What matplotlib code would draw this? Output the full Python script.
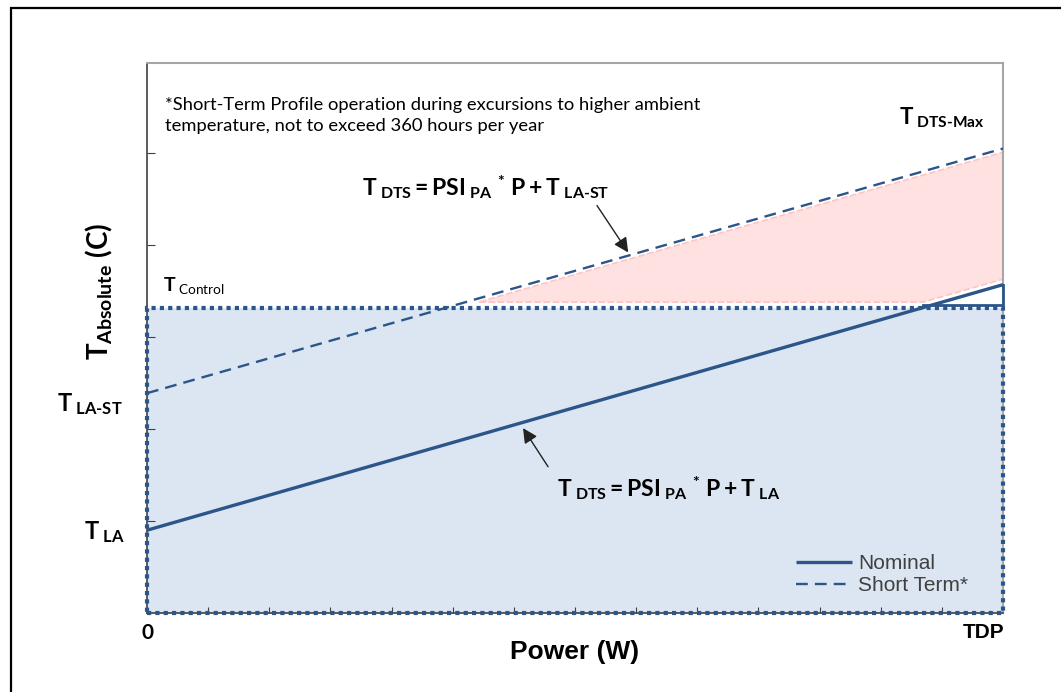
import matplotlib
matplotlib.use("Agg")
import matplotlib.pyplot as plt
import matplotlib.patches as patches
import numpy as np

# values (arbitrary units: x 0..TDP, y in tick steps)
power = [0, 14]
nominal = [0.90, 3.57]
short_term = [2.39, 5.05]
t_control = 3.32

line_blue = "#2c5589"
fill_blue = "#dce6f2"
fill_pink = "#ffe1e1"

plt.rcParams["mathtext.fontset"] = "custom"
plt.rcParams["mathtext.bf"] = "Lato:bold"
plt.rcParams["mathtext.rm"] = "Lato"
plt.rcParams["mathtext.it"] = "Lato:italic"

fig = plt.figure(figsize=(10.61, 6.92), dpi=100)
ax = fig.add_axes([147 / 1061, 79 / 692, 856 / 1061, 550 / 692])
ax.set_xlim(power[0], power[1])
ax.set_ylim(0, 5.98)

# outer frame of the picture
fig.patches.append(patches.Rectangle((11 / 1061, -0.1), 1.2, 0.1 + 684 / 692,
                                     transform=fig.transFigure, fill=False,
                                     edgecolor="black", linewidth=1.6))

# blue operating area under T control
ax.add_patch(patches.Rectangle((power[0], 0), power[1] - power[0], t_control,
                               facecolor=fill_blue, edgecolor="none", zorder=1))
ax.add_patch(patches.Rectangle((power[0], 0), power[1] - power[0], t_control,
                               fill=False, edgecolor=line_blue,
                               linestyle=(0, (1, 1)), linewidth=3.0,
                               clip_on=False, zorder=3))

# pink short-term area between the dashed line and max(nominal, control)
xs = np.linspace(power[0], power[1], 400)
nom_y = np.interp(xs, power, nominal)
st_y = np.interp(xs, power, short_term)
low = np.maximum(nom_y, t_control) + 0.06
high = st_y - 0.04
ax.fill_between(xs, low, high, where=high > low, facecolor=fill_pink,
                edgecolor="#ffc4c4", linestyle=(0, (4, 1.5)), linewidth=1.2,
                zorder=2)

# lines
ax.plot(power, nominal, color=line_blue, linewidth=2.4, label="Nominal",
        zorder=4, solid_capstyle="butt")
ax.plot(power, short_term, color=line_blue, linewidth=1.7,
        linestyle=(0, (5, 3)), label="Short Term*", zorder=4)

# white triangle where nominal exceeds T control
slope = (nominal[1] - nominal[0]) / (power[1] - power[0])
x_cross = power[0] + (t_control - nominal[0]) / slope
ax.plot([x_cross, power[1], power[1]], [t_control + 0.03, t_control + 0.03, nominal[1]],
        color=line_blue, linewidth=2.0, zorder=4, clip_on=False)

# spines and ticks
for side in ["left", "bottom"]:
    ax.spines[side].set_color("#404040")
    ax.spines[side].set_linewidth(1.2)
for side in ["top", "right"]:
    ax.spines[side].set_color("#a6a6a6")
    ax.spines[side].set_linewidth(1.5)
ax.set_xticks(range(1, 14))
ax.set_yticks(range(1, 6))
ax.set_xticklabels([])
ax.set_yticklabels([])
ax.tick_params(axis="x", direction="in", length=4.5, color="#404040")
ax.tick_params(axis="y", direction="in", length=6, color="#404040")

# axis labels
ax.text(0.5, -0.07, "Power (W)", transform=ax.transAxes, ha="center", va="center",
        fontsize=19, fontweight="bold", family="Liberation Sans")
ax.text(-0.055, 0.585, r"$\mathbf{T}_{\mathbf{Absolute}}\ \mathbf{(C)}$",
        transform=ax.transAxes, rotation=90, ha="center", va="center",
        fontsize=20)
ax.text(0.001, -0.036, "0", transform=ax.transAxes, ha="center", va="center",
        fontsize=15, fontweight="bold", family="Lato")
ax.text(1.002, -0.036, "TDP", transform=ax.transAxes, ha="right", va="center",
        fontsize=15, fontweight="bold", family="Liberation Sans")

# left side level labels
ax.text(-0.026, nominal[0] - 0.02, r"$\mathbf{T}_{\mathbf{\ LA}}$", transform=ax.get_yaxis_transform(),
        ha="right", va="center", fontsize=17)
ax.text(-0.029, short_term[0] - 0.12, r"$\mathbf{T}_{\mathbf{\ LA‐ST}}$",
        transform=ax.get_yaxis_transform(), ha="right", va="center", fontsize=17)
ax.text(0.019, 0.596, r"$\mathbf{T}_{\mathrm{\ Control}}$", transform=ax.transAxes,
        ha="left", va="center", fontsize=14)
ax.text(0.979, 0.9, r"$\mathbf{T}_{\mathbf{\ DTS‐Max}}$", transform=ax.transAxes,
        ha="right", va="center", fontsize=16)

# note
ax.text(0.021, 0.938,
        "*Short-Term Profile operation during excursions to higher ambient\n"
        "temperature, not to exceed 360 hours per year",
        transform=ax.transAxes, ha="left", va="top", fontsize=13.2, family="Lato",
        linespacing=1.35)

# equations with arrows
ax.text(0.251, 0.775,
        r"$\mathbf{T}_{\mathbf{\ DTS}}\mathbf{=PSI}_{\mathbf{\ PA}}\ {}^{\mathbf{*}}\ \mathbf{P+T}_{\mathbf{\ LA‐ST}}$",
        transform=ax.transAxes, ha="left", va="center", fontsize=16.5)
ax.annotate("", xy=(7.87, 3.92), xytext=(7.36, 4.43),
            arrowprops=dict(arrowstyle="-|>", color="#222222", linewidth=1.0,
                            mutation_scale=22, shrinkA=0, shrinkB=0), zorder=6)
ax.text(0.479, 0.227,
        r"$\mathbf{T}_{\mathbf{\ DTS}}\mathbf{=PSI}_{\mathbf{\ PA}}\ {}^{\mathbf{*}}\ \mathbf{P+T}_{\mathbf{\ LA}}$",
        transform=ax.transAxes, ha="left", va="center", fontsize=16.5)
ax.annotate("", xy=(6.15, 2.01), xytext=(6.56, 1.59),
            arrowprops=dict(arrowstyle="-|>", color="#222222", linewidth=1.0,
                            mutation_scale=22, shrinkA=0, shrinkB=0), zorder=6)

# legend
ax.legend(loc="upper left", bbox_to_anchor=(0.758, 0.107), frameon=False,
          borderpad=0, borderaxespad=0, handlelength=2.7, handletextpad=0.3,
          labelspacing=0.15, prop={"family": "Liberation Sans", "size": 15},
          labelcolor="#404040")

fig.savefig("out.png", dpi=100)
